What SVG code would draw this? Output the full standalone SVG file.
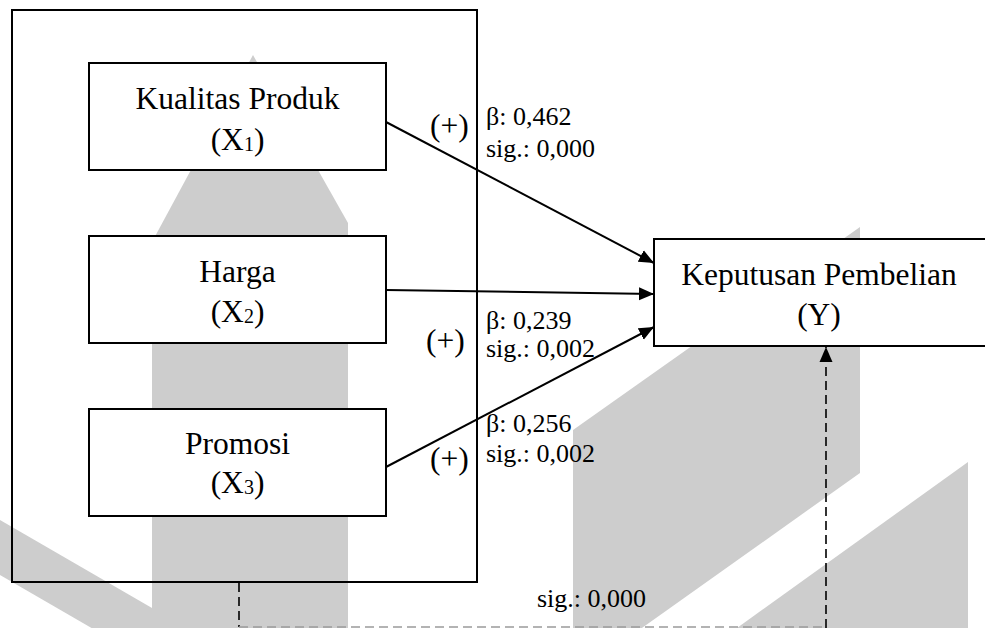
<svg xmlns="http://www.w3.org/2000/svg" width="985" height="628" viewBox="0 0 985 628">
  <style>
    .box { fill: #ffffff; stroke: #000000; stroke-width: 2; }
    .frame { fill: none; stroke: #000000; stroke-width: 2; }
    .node { font-family: "Liberation Serif", "Times New Roman", serif; font-size: 31.5px; fill: #000000; text-anchor: middle; }
    .sign { font-family: "Liberation Serif", "Times New Roman", serif; font-size: 31.5px; fill: #000000; }
    .stat { font-family: "Liberation Serif", "Times New Roman", serif; font-size: 26px; fill: #000000; }
    .sub { font-size: 20px; }
    .edge { fill: none; stroke: #000000; stroke-width: 2; }
    .dash { fill: none; stroke: #000000; stroke-width: 1.6; stroke-dasharray: 9 5; }
    .dash-faint { fill: none; stroke: #9a9a9a; stroke-width: 1.6; stroke-dasharray: 9 5; }
    .wm { fill: #cdcdcd; }
  </style>
  <defs>
    <marker id="arrow" markerUnits="userSpaceOnUse" markerWidth="16" markerHeight="14" viewBox="0 0 16 14" refX="15" refY="7" orient="auto">
      <path d="M0,0.5 L15,7 L0,13.5 z" fill="#000000"/>
    </marker>
  </defs>

  <rect x="0" y="0" width="985" height="628" fill="#ffffff"/>

  <!-- background watermark shapes -->
  <g id="watermark">
    <polygon class="wm" points="253,55 348,223 348,628 152,628 152,242"/>
    <polygon class="wm" points="0,520 152,608 152,663 0,575"/>
    <polygon class="wm" points="573,430 860,227 860,473 573,677"/>
    <polygon class="wm" points="968,462 968,628 737,628"/>
  </g>

  <!-- grouping frame around the independent variables -->
  <rect id="frame" class="frame" x="12" y="10" width="465" height="572"/>

  <g id="connectors">
    <line class="edge" x1="386" y1="122" x2="654" y2="263" marker-end="url(#arrow)"/>
    <line class="edge" x1="386" y1="290" x2="654" y2="294" marker-end="url(#arrow)"/>
    <line class="edge" x1="386" y1="467" x2="654" y2="327" marker-end="url(#arrow)"/>
    <line class="dash" x1="239" y1="583" x2="239" y2="627"/>
    <line class="dash-faint" x1="239" y1="627" x2="826" y2="627"/>
    <line class="dash" x1="826" y1="628" x2="826" y2="347" marker-end="url(#arrow)"/>
  </g>

  <g id="x1">
    <rect class="box" x="89" y="63" width="297" height="107"/>
    <text class="node" x="237.5" y="109">Kualitas Produk</text>
    <text class="node" x="237.5" y="150">(X<tspan class="sub" dy="1">1</tspan><tspan dy="-1">)</tspan></text>
  </g>

  <g id="x2">
    <rect class="box" x="89" y="236" width="297" height="107"/>
    <text class="node" x="237.5" y="282">Harga</text>
    <text class="node" x="237.5" y="322">(X<tspan class="sub" dy="1">2</tspan><tspan dy="-1">)</tspan></text>
  </g>

  <g id="x3">
    <rect class="box" x="89" y="409" width="297" height="107"/>
    <text class="node" x="237.5" y="454">Promosi</text>
    <text class="node" x="237.5" y="493">(X<tspan class="sub" dy="1">3</tspan><tspan dy="-1">)</tspan></text>
  </g>

  <g id="y">
    <rect class="box" x="654" y="239" width="345" height="107"/>
    <text class="node" x="819" y="285">Keputusan Pembelian</text>
    <text class="node" x="819" y="325">(Y)</text>
  </g>

  <g id="labels">
    <text class="sign" x="430" y="136">(+)</text>
    <text class="stat" x="486" y="125">β: 0,462</text>
    <text class="stat" x="486" y="157">sig.: 0,000</text>

    <text class="sign" x="426" y="351">(+)</text>
    <text class="stat" x="486" y="329">β: 0,239</text>
    <text class="stat" x="486" y="357">sig.: 0,002</text>

    <text class="sign" x="430" y="469">(+)</text>
    <text class="stat" x="486" y="432">β: 0,256</text>
    <text class="stat" x="486" y="462">sig.: 0,002</text>

    <text class="stat" x="537" y="607">sig.: 0,000</text>
  </g>
</svg>
